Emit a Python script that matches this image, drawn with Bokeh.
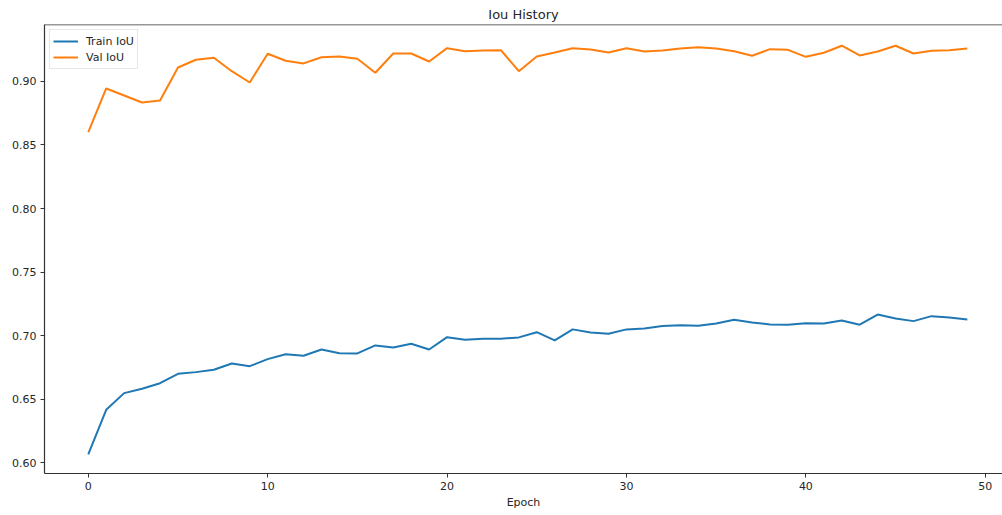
from bokeh.plotting import figure
from bokeh.models import Range1d, Span, FixedTicker, NumeralTickFormatter, Legend, LegendItem
from bokeh.embed import file_html
from bokeh.resources import INLINE

epochs = list(range(50))
train_iou = [0.6067, 0.6418, 0.6549, 0.6583, 0.6627, 0.6701, 0.6714, 0.6733, 0.6782, 0.6761,
             0.6816, 0.6855, 0.6843, 0.6892, 0.6863, 0.6861, 0.6924, 0.6908, 0.6937, 0.6892,
             0.6989, 0.6968, 0.6976, 0.6976, 0.6987, 0.7028, 0.6963, 0.7050, 0.7026, 0.7016,
             0.7050, 0.7057, 0.7076, 0.7083, 0.7078, 0.7097, 0.7126, 0.7105, 0.7089, 0.7087,
             0.7099, 0.7097, 0.7120, 0.7087, 0.7167, 0.7136, 0.7115, 0.7154, 0.7144, 0.7128]
val_iou = [0.8601, 0.8944, 0.8889, 0.8834, 0.8850, 0.9109, 0.9170, 0.9186, 0.9080, 0.8991,
           0.9217, 0.9162, 0.9141, 0.9190, 0.9196, 0.9178, 0.9068, 0.9219, 0.9219, 0.9156,
           0.9261, 0.9237, 0.9243, 0.9245, 0.9080, 0.9196, 0.9227, 0.9261, 0.9251, 0.9227,
           0.9261, 0.9235, 0.9243, 0.9259, 0.9269, 0.9259, 0.9237, 0.9201, 0.9253, 0.9248,
           0.9193, 0.9225, 0.9280, 0.9204, 0.9235, 0.9280, 0.9219, 0.9240, 0.9245, 0.9259]
x_ticks = [0, 10, 20, 30, 40, 50]
y_ticks = [0.60, 0.65, 0.70, 0.75, 0.80, 0.85, 0.90]

FONT = "DejaVu Sans"
TXT = "#262626"

y_lo, y_hi = 0.5917, 0.9447
p = figure(width=1002, height=515, output_backend="svg", toolbar_location=None,
           x_range=Range1d(-2.44, 50.96), y_range=Range1d(y_lo, y_hi),
           min_border_left=44, min_border_right=0, min_border_top=24, min_border_bottom=42,
           title="Iou History")
p.title.align = "center"
p.title.text_font = FONT
p.title.text_font_size = "13px"
p.title.text_font_style = "normal"
p.title.text_color = TXT
p.title.standoff = 6

p.outline_line_color = None
p.grid.visible = False
p.background_fill_color = "white"
p.border_fill_color = "white"

for ax in (p.xaxis[0], p.yaxis[0]):
    ax.axis_line_color = "#333333"
    ax.axis_line_width = 1.2
    ax.major_tick_line_color = "#333333"
    ax.major_tick_out = 4
    ax.major_tick_in = 0
    ax.minor_tick_line_color = None
    ax.major_label_text_font = FONT
    ax.major_label_text_font_size = "11px"
    ax.major_label_text_color = TXT

p.xaxis.ticker = FixedTicker(ticks=x_ticks)
p.yaxis.ticker = FixedTicker(ticks=y_ticks)
p.yaxis.formatter = NumeralTickFormatter(format="0.00")
p.xaxis.axis_label = "Epoch"
p.xaxis.axis_label_text_font = FONT
p.xaxis.axis_label_text_font_size = "11px"
p.xaxis.axis_label_text_font_style = "normal"
p.xaxis.axis_label_text_color = TXT
p.xaxis.axis_label_standoff = 3
p.xaxis.major_label_standoff = 4
p.yaxis.major_label_standoff = 4

p.add_layout(Span(location=y_hi, dimension="width", line_color="#333333", line_width=1.5))

r1 = p.line(epochs, train_iou, line_color="#1f77b4", line_width=2)
r2 = p.line(epochs, val_iou, line_color="#ff7f0e", line_width=2)

legend = Legend(items=[LegendItem(label="Train IoU", renderers=[r1]),
                       LegendItem(label="Val IoU", renderers=[r2])])
legend.location = "top_left"
legend.margin = 5
legend.padding = 3
legend.spacing = 0
legend.glyph_width = 25
legend.glyph_height = 16
legend.label_height = 16
legend.label_standoff = 8
legend.label_text_font = FONT
legend.label_text_font_size = "11px"
legend.label_text_color = TXT
legend.border_line_color = "#d0d0d0"
legend.border_line_width = 1
legend.background_fill_alpha = 0.8
p.add_layout(legend)

open("out.html", "w").write(file_html(p, INLINE))
